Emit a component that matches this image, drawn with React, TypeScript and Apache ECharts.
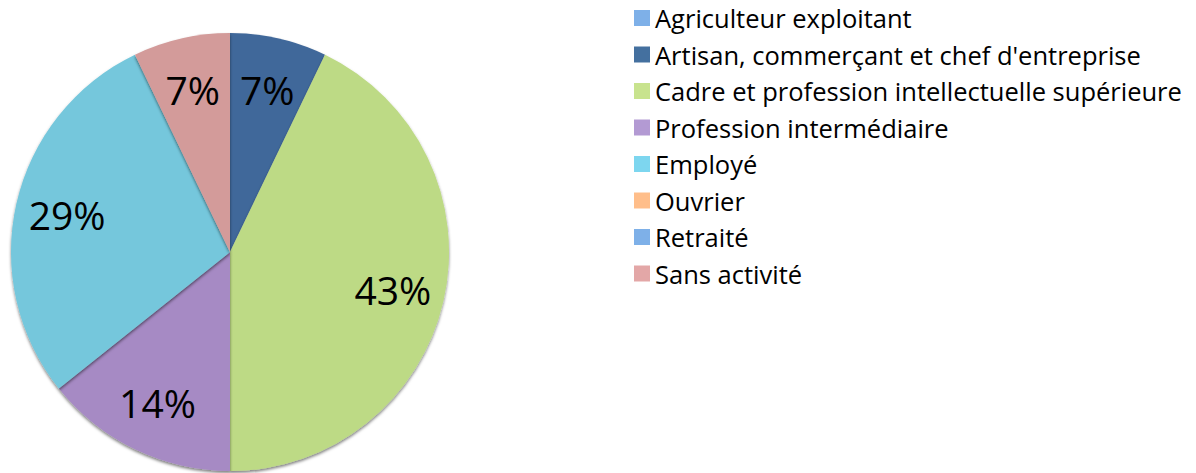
import React, { useEffect, useRef } from "react";
import * as echarts from "echarts";

const categories = [
  "Agriculteur exploitant",
  "Artisan, commerçant et chef d'entreprise",
  "Cadre et profession intellectuelle supérieure",
  "Profession intermédiaire",
  "Employé",
  "Ouvrier",
  "Retraité",
  "Sans activité",
];
const values = [0, 1, 6, 2, 4, 0, 0, 1];
const sliceColors = ["#7EB0E8", "#41689A", "#BDDA85", "#A68AC4", "#74C7DC", "#FFBE8A", "#7EB0E8", "#D39B9A"];
const legendColors = ["#7EB0E8", "#44709F", "#C8E38E", "#B39AD3", "#7DD6EF", "#FFBE8A", "#7EB0E8", "#E3A7A7"];

const FONT = "'Open Sans', sans-serif";

export default function App() {
  const ref = useRef<HTMLDivElement>(null);
  useEffect(() => {
    if (!ref.current) return;
    const chart = echarts.init(ref.current, undefined, { renderer: "svg" });
    const data = categories.map((name, i) => ({
      name,
      value: values[i],
      itemStyle: { color: sliceColors[i] },
    }));
    chart.setOption({
      animation: false,
      legend: {
        orient: "vertical",
        left: 629,
        top: 0,
        itemWidth: 16,
        itemHeight: 16,
        itemGap: 10.5,
        icon: "rect",
        selectedMode: false,
        textStyle: { fontFamily: FONT, fontSize: 25.5, color: "#000", lineHeight: 24 },
        data: categories.map((name, i) => ({ name, itemStyle: { color: legendColors[i] } })),
      },
      series: [
        {
          type: "pie",
          center: [230, 252],
          radius: 219,
          startAngle: 90,
          clockwise: true,
          silent: true,
          label: { show: false },
          labelLine: { show: false },
          itemStyle: {
            borderWidth: 0,
            shadowColor: "rgba(0,0,0,0.5)",
            shadowBlur: 3,
            shadowOffsetY: 2,
          },
          data,
        },
        {
          type: "pie",
          center: [230, 252],
          radius: [109, 219],
          startAngle: 90,
          clockwise: true,
          silent: true,
          itemStyle: { color: "transparent", borderWidth: 0 },
          labelLine: { show: false },
          label: {
            show: true,
            position: "inside",
            fontFamily: FONT,
            fontSize: 39,
            color: "#000",
            formatter: (p: any) => (p.value > 0 ? Math.round(p.percent) + "%" : ""),
          },
          data: categories.map((name, i) => ({ name, value: values[i] })),
        },
      ],
    });
    return () => chart.dispose();
  }, []);
  return (
    <div
      ref={ref}
      style={{ position: "fixed", left: 0, top: 0, width: 1196, height: 473, background: "#fff" }}
    />
  );
}
